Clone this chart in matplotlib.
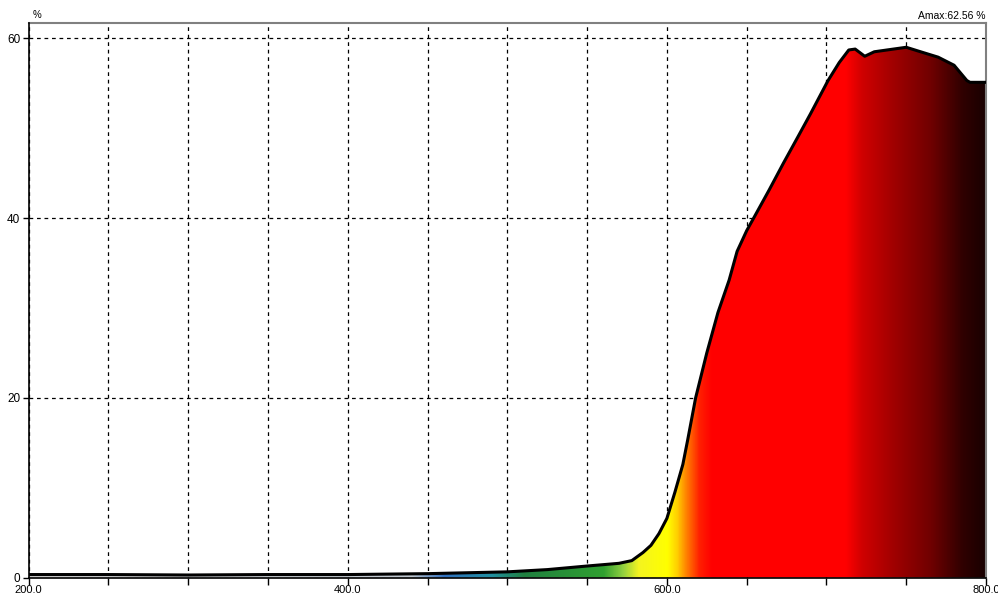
import numpy as np
import matplotlib
matplotlib.use('Agg')
import matplotlib.pyplot as plt
from matplotlib.colors import LinearSegmentedColormap

# transmission spectrum
wavelength = [200, 250, 300, 350, 400, 450, 500, 525, 550, 570, 578, 585, 590, 595,
              600, 605, 610, 613, 618, 625, 632, 639, 644, 650, 655, 664, 673, 682,
              690, 701, 708, 714, 718, 724, 730, 738, 750, 759, 770, 780, 788, 790, 800]
percent = [0.35, 0.35, 0.3, 0.35, 0.35, 0.45, 0.65, 0.9, 1.3, 1.6, 1.9, 2.8, 3.6, 4.9,
           6.6, 9.5, 12.6, 15.3, 20.0, 25.0, 29.5, 33.1, 36.3, 38.6, 40.2, 43.1, 46.1, 49.0,
           51.6, 55.3, 57.3, 58.7, 58.8, 58.0, 58.5, 58.7, 59.0, 58.5, 57.9, 57.0, 55.3, 55.1, 55.1]

x_ticks = [200, 250, 300, 350, 400, 450, 500, 550, 600, 650, 700, 750, 800]
x_labels = ['200.0', '', '', '', '400.0', '', '', '', '600.0', '', '', '', '800.0']
y_ticks = [0, 20, 40, 60]
amax = 62.56

plt.rcParams['font.family'] = ['Liberation Sans', 'DejaVu Sans']

fig = plt.figure(figsize=(9.98, 5.98), dpi=100)
ax = fig.add_axes([28.7 / 998, 1 - 577.7 / 598, (986 - 28.7) / 998, (577.7 - 23) / 598])

# spectral colour under the curve
stops = [(200, '#d8d8d8'), (440, '#c0c8d0'), (460, '#3070c0'), (490, '#2090a0'),
         (510, '#208040'), (560, '#30a030'), (572, '#90d040'), (582, '#f4f420'),
         (600, '#ffff00'), (606, '#ffd000'), (612, '#ff8000'), (620, '#ff2000'),
         (628, '#ff0000'), (712, '#ff0000'), (722, '#d00000'), (742, '#a00000'),
         (765, '#700000'), (785, '#300000'), (800, '#180000')]
cmap = LinearSegmentedColormap.from_list(
    'spec', [((w - 200) / 600, c) for w, c in stops], N=2048)
grad = np.linspace(0, 1, 1200).reshape(1, -1)
img = ax.imshow(grad, cmap=cmap, aspect='auto', extent=(200, 800, 0, 61.7),
                origin='lower', interpolation='bilinear', zorder=1)
poly = ax.fill_between(wavelength, 0, percent, color='none', lw=0)
clip = poly.get_paths()[0]
img.set_clip_path(clip, transform=ax.transData)

ax.plot(wavelength, percent, color='black', lw=2.2, zorder=3)

ax.set_xlim(200, 800)
ax.set_ylim(0, 61.7)
ax.set_xticks(x_ticks)
ax.set_xticklabels(x_labels, fontsize=8)
ax.set_yticks(y_ticks)
ax.set_yticklabels([str(v) for v in y_ticks], fontsize=8.5)
ax.tick_params(axis='x', direction='out', length=5, width=1, pad=0)
ax.tick_params(axis='y', direction='out', length=4, width=1, pad=2)
ax.set_axisbelow(True)
ax.grid(True, color='black', linestyle=(0, (3, 3)), lw=0.9)

for side in ['top', 'right']:
    ax.spines[side].set_color('#808080')
    ax.spines[side].set_linewidth(1.5)
for side in ['left', 'bottom']:
    ax.spines[side].set_color('black')
    ax.spines[side].set_linewidth(1.2)
    ax.spines[side].set_zorder(4)

fig.text(33 / 998, 1 - 15 / 598, '%', fontsize=7, ha='left', va='center')
fig.text(985 / 998, 1 - 16 / 598, 'Amax:{:.2f} %'.format(amax), fontsize=7.5,
         ha='right', va='center')

fig.savefig('out.png', dpi=100)
